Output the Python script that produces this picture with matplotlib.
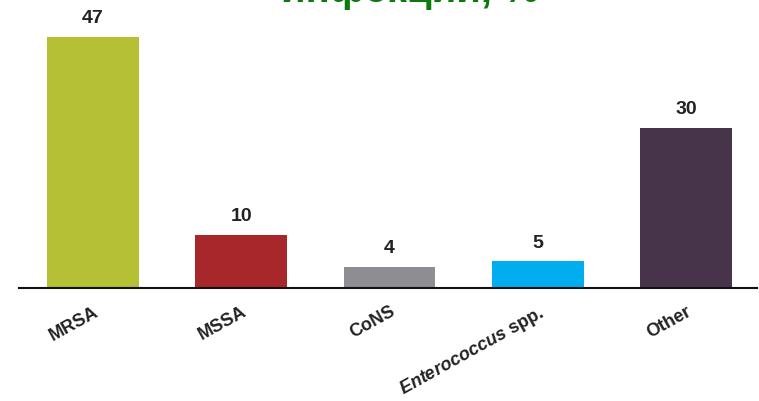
import matplotlib
matplotlib.use("Agg")
import matplotlib.pyplot as plt

# data
categories = ["MRSA", "MSSA", "CoNS", r"$\mathit{Enterococcus}$ spp.", "Other"]
values = [47, 10, 4, 5, 30]
colors = ["#b5c034", "#a8272a", "#8e8d91", "#00aeef", "#47344b"]
title = "инфекций, %"

plt.rcParams["font.family"] = ["Liberation Sans", "DejaVu Sans"]
plt.rcParams["mathtext.fontset"] = "custom"
plt.rcParams["mathtext.it"] = "Liberation Sans:italic:bold"
plt.rcParams["mathtext.rm"] = "Liberation Sans:bold"

W, H = 759, 401
fig = plt.figure(figsize=(W / 100, H / 100), dpi=100)
ax = fig.add_axes([19 / W, 113 / H, (757 - 19) / W, (288 - 10) / H])

x = list(range(len(values)))
bars = ax.bar(x, values, width=0.62, color=colors)
for b, v in zip(bars, values):
    ax.annotate(str(v), (b.get_x() + b.get_width() / 2, v), xytext=(0, 7),
                textcoords="offset points", ha="center", va="bottom",
                fontsize=14, fontweight="bold", color="#222222")

ax.set_xlim(-0.5, 4.48)
ax.set_ylim(0, 52)
ax.set_yticks([])
for s in ["top", "right", "left"]:
    ax.spines[s].set_visible(False)
ax.spines["bottom"].set_linewidth(1.5)
ax.spines["bottom"].set_color("#111111")

ax.set_xticks(x)
ax.set_xticklabels(categories, rotation=29, ha="right", va="top",
                   rotation_mode="anchor", fontsize=13, fontweight="bold",
                   color="#222222")
ax.tick_params(axis="x", length=0, pad=11)

# title, mostly cut off by the top edge in the reference
fig.text(410 / W, 1 - 2 / H, title, ha="center", va="baseline",
         fontsize=29, fontweight="bold", color="#0a7a0c")

fig.savefig("out.png", dpi=100)
